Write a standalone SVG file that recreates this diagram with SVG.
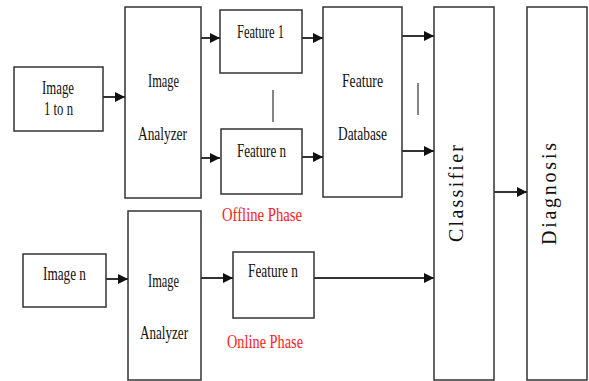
<svg xmlns="http://www.w3.org/2000/svg" width="589" height="381" viewBox="0 0 589 381">
<defs>
<style>
.box{fill:#fff;stroke:#333;stroke-width:1.5}
.t{font-size:18px;fill:#111}
.r{font-size:18px;fill:#ff1a1a}
.v{font-size:20px;fill:#111}
.c{stroke:#333;stroke-width:2;fill:none}
.sep{stroke:#333;stroke-width:1.2}
</style>
<marker id="ah" markerUnits="userSpaceOnUse" markerWidth="12" markerHeight="12" viewBox="0 0 12 12" refX="11" refY="6" orient="auto">
<path d="M1,1 L11,6 L1,11 Z" fill="#111"/>
</marker>
</defs>
<rect width="589" height="381" fill="#fff"/>
<g font-family="Liberation Serif, serif">
<g id="image1ton">
<rect class="box" x="14" y="67" width="89" height="64"/>
<text class="t" x="42" y="94" textLength="32" lengthAdjust="spacingAndGlyphs">Image</text>
<text class="t" x="44" y="115" textLength="29" lengthAdjust="spacingAndGlyphs">1 to n</text>
</g>
<g id="analyzer1">
<rect class="box" x="125" y="7" width="76" height="191"/>
<text class="t" x="148" y="87" textLength="31" lengthAdjust="spacingAndGlyphs">Image</text>
<text class="t" x="138" y="140" textLength="49" lengthAdjust="spacingAndGlyphs">Analyzer</text>
</g>
<g id="feature1">
<rect class="box" x="220" y="10" width="82" height="63"/>
<text class="t" x="237" y="38" textLength="47" lengthAdjust="spacingAndGlyphs">Feature 1</text>
</g>
<g id="featuren">
<rect class="box" x="221" y="129" width="81" height="65"/>
<text class="t" x="237" y="157" textLength="49" lengthAdjust="spacingAndGlyphs">Feature n</text>
</g>
<g id="offline">
<text class="r" x="222" y="221" textLength="80" lengthAdjust="spacingAndGlyphs">Offline Phase</text>
</g>
<g id="database">
<rect class="box" x="323" y="7" width="79" height="190"/>
<text class="t" x="342" y="87" textLength="41" lengthAdjust="spacingAndGlyphs">Feature</text>
<text class="t" x="338" y="140" textLength="49" lengthAdjust="spacingAndGlyphs">Database</text>
</g>
<g id="classifier">
<rect class="box" x="434" y="7" width="60" height="373"/>
<text class="v" transform="translate(463,242) rotate(-90)" x="0" y="0" textLength="97" lengthAdjust="spacing">Classifier</text>
</g>
<g id="diagnosis">
<rect class="box" x="527" y="7" width="60" height="373"/>
<text class="v" transform="translate(556,245) rotate(-90)" x="0" y="0" textLength="102" lengthAdjust="spacing">Diagnosis</text>
</g>
<g id="imagen">
<rect class="box" x="23" y="254" width="83" height="53"/>
<text class="t" x="43" y="280" textLength="43" lengthAdjust="spacingAndGlyphs">Image n</text>
</g>
<g id="analyzer2">
<rect class="box" x="128" y="211" width="73" height="169"/>
<text class="t" x="148" y="287" textLength="31" lengthAdjust="spacingAndGlyphs">Image</text>
<text class="t" x="140" y="339" textLength="48" lengthAdjust="spacingAndGlyphs">Analyzer</text>
</g>
<g id="featuren2">
<rect class="box" x="233" y="252" width="81" height="66"/>
<text class="t" x="248" y="277" textLength="50" lengthAdjust="spacingAndGlyphs">Feature n</text>
</g>
<g id="online">
<text class="r" x="227" y="348" textLength="76" lengthAdjust="spacingAndGlyphs">Online Phase</text>
</g>
</g>
<g id="connectors">
<line class="c" x1="103" y1="97" x2="125" y2="97" marker-end="url(#ah)"/>
<line class="c" x1="201" y1="38" x2="220" y2="38" marker-end="url(#ah)"/>
<line class="c" x1="201" y1="158" x2="220" y2="158" marker-end="url(#ah)"/>
<line class="c" x1="302" y1="38" x2="323" y2="38" marker-end="url(#ah)"/>
<line class="c" x1="302" y1="157" x2="323" y2="157" marker-end="url(#ah)"/>
<line class="c" x1="402" y1="36" x2="434" y2="36" marker-end="url(#ah)"/>
<line class="c" x1="402" y1="151" x2="434" y2="151" marker-end="url(#ah)"/>
<line class="c" x1="494" y1="192" x2="527" y2="192" marker-end="url(#ah)"/>
<line class="c" x1="106" y1="279" x2="128" y2="279" marker-end="url(#ah)"/>
<line class="c" x1="201" y1="278" x2="233" y2="278" marker-end="url(#ah)"/>
<line class="c" x1="314" y1="278" x2="434" y2="278" marker-end="url(#ah)"/>
<line class="sep" x1="273" y1="90" x2="273" y2="122"/>
<line class="sep" x1="418" y1="83" x2="418" y2="115"/>
</g>
</svg>
